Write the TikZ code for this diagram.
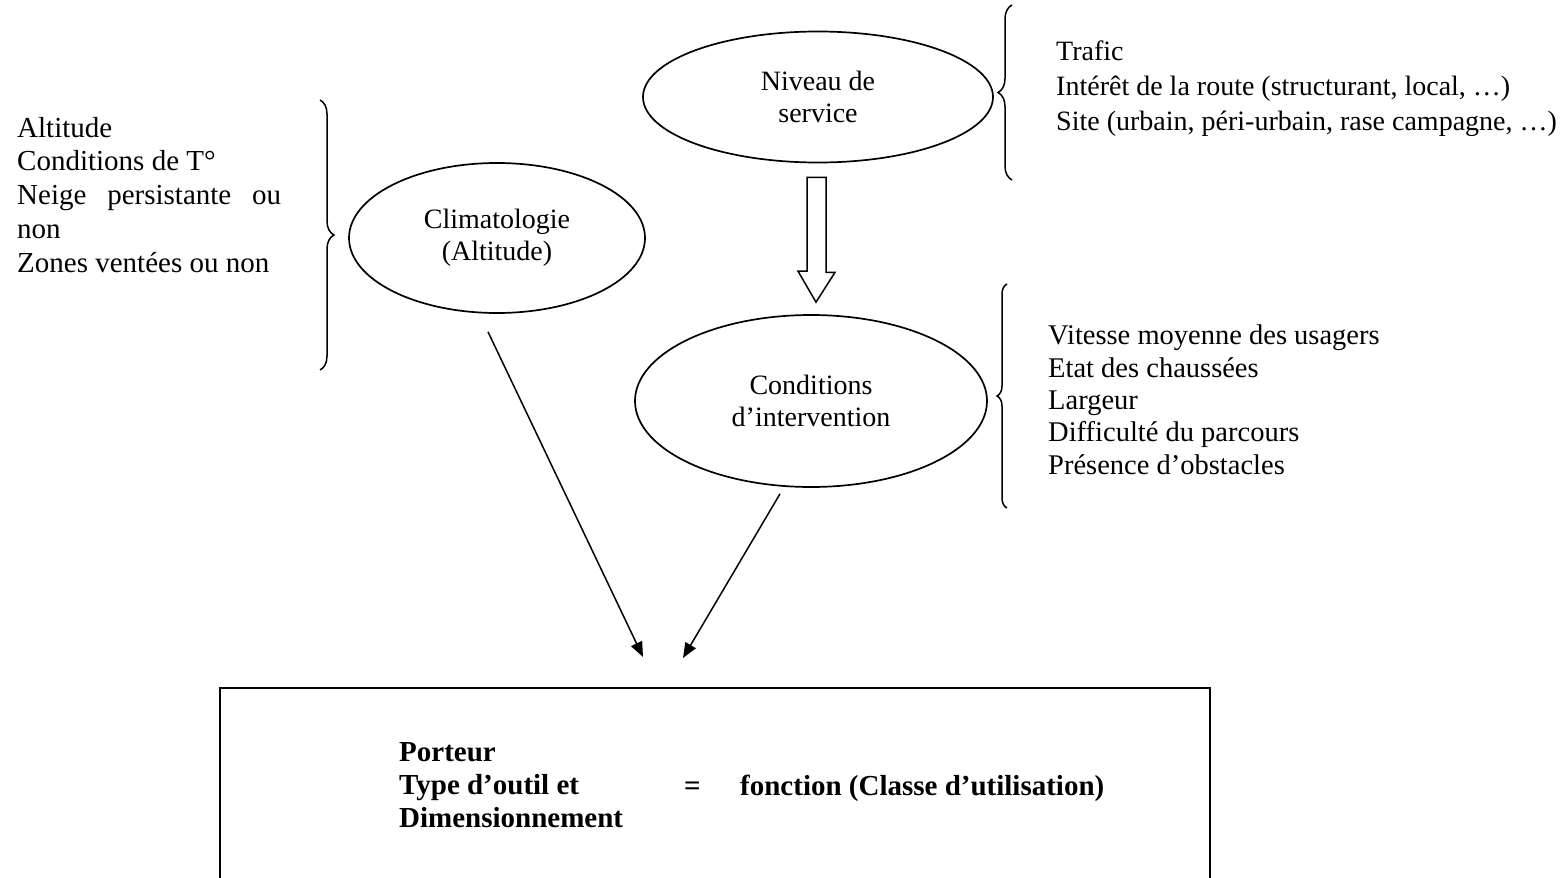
\documentclass[tikz,border=0pt]{standalone}
\usepackage{fontspec}
\setmainfont{Liberation Serif}
\usetikzlibrary{shapes.geometric,decorations.pathreplacing,calc,arrows.meta}
\begin{document}
\begin{tikzpicture}[x=1pt,y=-1pt,
  txt/.style={font=\fontsize{28}{33.7}\selectfont, inner sep=0pt, align=left, anchor=base west},
  btxt/.style={font=\fontsize{29}{33}\selectfont\bfseries, inner sep=0pt, align=left, anchor=base west},
  ell/.style={draw, line width=1.7pt, ellipse, inner sep=0pt, align=center, font=\fontsize{28}{32}\selectfont},
  brc/.style={decorate, decoration={brace, amplitude=#1}, line width=1.5pt},
  arr/.style={-{Triangle[length=15pt,width=12pt]}, line width=1.5pt},
]
\useasboundingbox (0,0) rectangle (1567,878);
\clip (0,0) rectangle (1567,878);
\fill[white] (0,0) rectangle (1567,878);

% ellipses
\node[ell, minimum width=350pt, minimum height=131pt] (niv) at (818,97) {Niveau de\\service};
\node[ell, minimum width=296pt, minimum height=150pt] (clim) at (497,238) {Climatologie\\(Altitude)};
\node[ell, minimum width=352pt, minimum height=172pt] (cond) at (811,401) {Conditions\\d'intervention};

% bottom box
\node[draw, line width=1.8pt, minimum width=990pt, minimum height=212pt, inner sep=0pt] (box) at (715,794) {};
\node[btxt] (boxl) at (399,827) {Porteur\\Type d'outil et\\Dimensionnement};
\node[btxt] (eq) at (684,795) {=};
\node[btxt] (fct) at (740,795) {fonction (Classe d'utilisation)};

% lists (anchor = baseline of last line)
\node[txt, font=\fontsize{29}{33.7}\selectfont] (lclim) at (17,272) {Altitude\\Conditions de T°\\\hbox to 264pt{Neige\hfill persistante\hfill ou}\\non\\Zones ventées ou non};
\node[txt, font=\fontsize{28}{35}\selectfont] (lniv) at (1056,130) {Trafic\\Intérêt de la route (structurant, local, \ldots)\\Site (urbain, péri-urbain, rase campagne, \ldots)};
\node[txt, font=\fontsize{28.5}{32.3}\selectfont] (lcond) at (1048,474) {Vitesse moyenne des usagers\\Etat des chaussées\\Largeur\\Difficulté du parcours\\Présence d'obstacles};

% braces
\draw[brc=14pt] (320,100) -- (320,370);
\draw[brc=14pt] (1012,180) -- (1012,5);
\draw[brc=10pt] (1007,508) -- (1007,284);

% hollow arrow from niv to cond
\draw[line width=1.5pt, line join=miter] ($(niv.south)+(-11,14)$) -- ++(19,0) -- ++(0,95) -- ++(9,0) -- ($(cond.north)+(5,-12)$) -- ++(-18,-31) -- ++(9,0) -- cycle;

% arrows to the box
\coordinate (e1) at (643,657);
\coordinate (e2) at (683,658);
\draw[arr] ($(clim.south)+(-9,18)$) -- (e1);
\draw[arr] ($(cond.south)+(-31,6)$) -- (e2);
\end{tikzpicture}
\end{document}
